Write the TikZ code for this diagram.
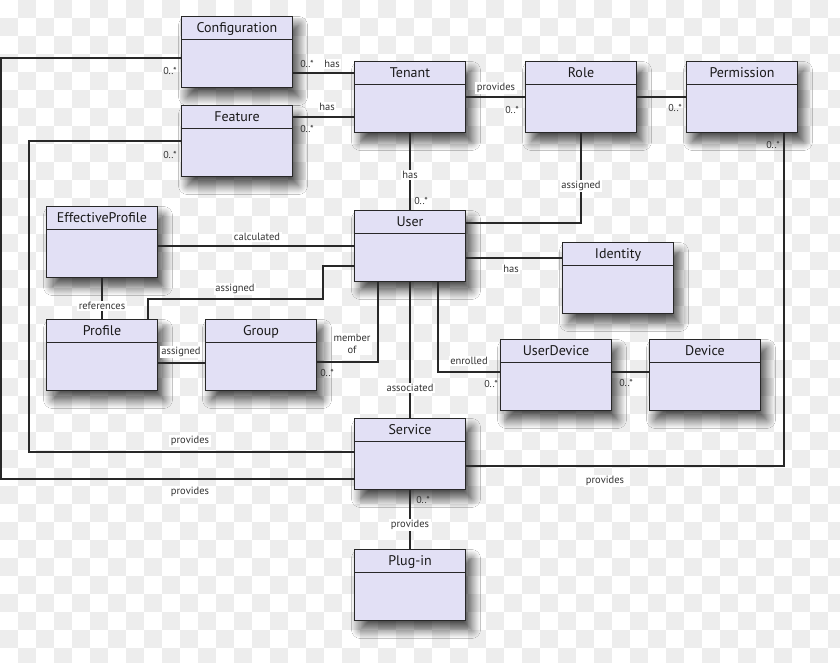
\documentclass[tikz,border=0pt]{standalone}
\usepackage{fontspec}
\setmainfont{PT Sans}
\usetikzlibrary{shadows.blur}

\definecolor{clsfill}{RGB}{226,224,245}
\definecolor{edge}{RGB}{40,40,40}

\begin{document}
\begin{tikzpicture}[x=1pt,y=-1pt,
  cls/.style={draw=edge,line width=1.6pt,fill=clsfill,minimum width=111pt,minimum height=71pt,inner sep=0pt,
    blur shadow={shadow xshift=6pt,shadow yshift=-9pt,shadow blur radius=9pt,shadow blur steps=14,shadow opacity=70},
    path picture={\draw[draw=edge,line width=1.6pt] ([yshift=-23pt]path picture bounding box.north west) -- ([yshift=-23pt]path picture bounding box.north east);}},
  ttl/.style={anchor=base,yshift=-17pt,inner sep=0pt,text=black!90,font=\fontsize{14}{15}\selectfont},
  conn/.style={draw=edge,line width=1.4pt},
  lbl/.style={fill=white,inner sep=1.5pt,text=black!80,font=\fontsize{10.5}{12.5}\selectfont},
  mult/.style={inner sep=1pt,text=black!80,font=\fontsize{10}{10}\selectfont}]

\useasboundingbox (0,0) rectangle (840,662);

% checkerboard background
\fill[white] (0,0) rectangle (840,662);
\foreach \i in {0,...,46}{
  \foreach \j in {0,...,36}{
    \pgfmathparse{int(mod(\i+\j,2))}
    \ifnum\pgfmathresult=1
      \fill[black!7] (\i*18,\j*18) rectangle ++(18,18);
    \fi
  }
}

% classes
\node[cls,label={[ttl]90:Configuration}] (conf) at (237,52) {};
\node[cls,label={[ttl]90:Feature}] (feat) at (237,141) {};
\node[cls,label={[ttl]90:Tenant}] (tenant) at (410,97) {};
\node[cls,label={[ttl]90:Role}] (role) at (581,97) {};
\node[cls,label={[ttl]90:Permission}] (perm) at (742,97) {};
\node[cls,label={[ttl]90:EffectiveProfile}] (effprof) at (102,242) {};
\node[cls,label={[ttl]90:User}] (user) at (410,246) {};
\node[cls,label={[ttl]90:Identity}] (ident) at (618,278) {};
\node[cls,label={[ttl]90:Profile}] (prof) at (102,355) {};
\node[cls,label={[ttl]90:Group}] (group) at (261,355) {};
\node[cls,label={[ttl]90:UserDevice}] (udev) at (556,375) {};
\node[cls,label={[ttl]90:Device}] (dev) at (705,375) {};
\node[cls,label={[ttl]90:Service}] (serv) at (410,454) {};
\node[cls,label={[ttl]90:Plug-in}] (plugin) at (410,585) {};

%configuration - tenant
\path[conn] (conf.east |- 0,73) -- (tenant.west |- 0,73);
\node[mult] (confm) at (307,64) {0..*};
\node[lbl] (confl) at (332,64) {has};

%feature - tenant
\path[conn] (feat.east |- 0,117) -- (tenant.west |- 0,117);
\node[lbl] (featl) at (327,107) {has};
\node[mult] (featm) at (307,129) {0..*};

%tenant - user
\path[conn] (tenant.south) -- (user.north);
\node[lbl] (tenantl) at (410,175) {has};
\node[mult] (tenantm) at (421,201) {0..*};

%tenant - role
\path[conn] (tenant.east) -- (role.west);
\node[lbl] (rolel) at (496,88) {provides};
\node[mult] (rolem) at (512,110) {0..*};

%role - permission
\path[conn] (role.east) -- (perm.west);
\node[mult] (permm) at (675,108) {0..*};

%role - user
\path[conn] (role.south) |- (user.east |- 0,223);
\node[lbl] (assl) at (581,186) {assigned};

%permission - service
\path[conn] (perm.south -| 784,0) |- (serv.east |- 0,466);
\node[mult] (psm) at (773,145) {0..*};
\node[lbl] (psl) at (605,481) {provides};

%configuration - service
\path[conn] (conf.west |- 0,58) -| (1,479) -- (serv.west |- 0,479);
\node[mult] (csm) at (170,71) {0..*};
\node[lbl] (csl) at (190,492) {provides};

%feature - service
\path[conn] (feat.west) -| (29,452) -- (serv.west |- 0,452);
\node[mult] (fsm) at (170,155) {0..*};
\node[lbl] (fsl) at (190,441) {provides};

%effectiveprofile - user
\path[conn] (effprof.east |- 0,246) -- (user.west);
\node[lbl] (calcl) at (257,237) {calculated};

%effectiveprofile - profile
\path[conn] (effprof.south) -- (prof.north);
\node[lbl] (refl) at (102,306) {references};

%profile - user
\path[conn] (prof.north -| 148,0) |- (323,299) |- (user.west |- 0,266);
\node[lbl] (pul) at (235,289) {assigned};

%profile - group
\path[conn] (prof.east |- 0,363) -- (group.west |- 0,363);
\node[lbl] (pgl) at (181,352) {assigned};

%group - user
\path[conn] (group.east |- 0,362) -| (user.south -| 378,0);
\node[lbl,align=center] (gul) at (352,344) {member\\of};
\node[mult] (gum) at (327,373) {0..*};

%user - service
\path[conn] (user.south) -- (serv.north);
\node[lbl] (usl) at (410,388) {associated};

%user - userdevice
\path[conn] (user.south -| 438,0) |- (udev.west |- 0,372);
\node[lbl] (enrl) at (469,361) {enrolled};
\node[mult] (enrm) at (491,384) {0..*};

%user - identity
\path[conn] (user.east |- 0,258) -- (ident.west |- 0,258);
\node[lbl] (idl) at (511,269) {has};

%userdevice - device
\path[conn] (udev.east |- 0,372) -- (dev.west |- 0,372);
\node[mult] (devm) at (626,383) {0..*};

%service - plug-in
\path[conn] (serv.south) -- (plugin.north);
\node[mult] (plugm) at (423,500) {0..*};
\node[lbl] (plugl) at (410,525) {provides};

\end{tikzpicture}
\end{document}
